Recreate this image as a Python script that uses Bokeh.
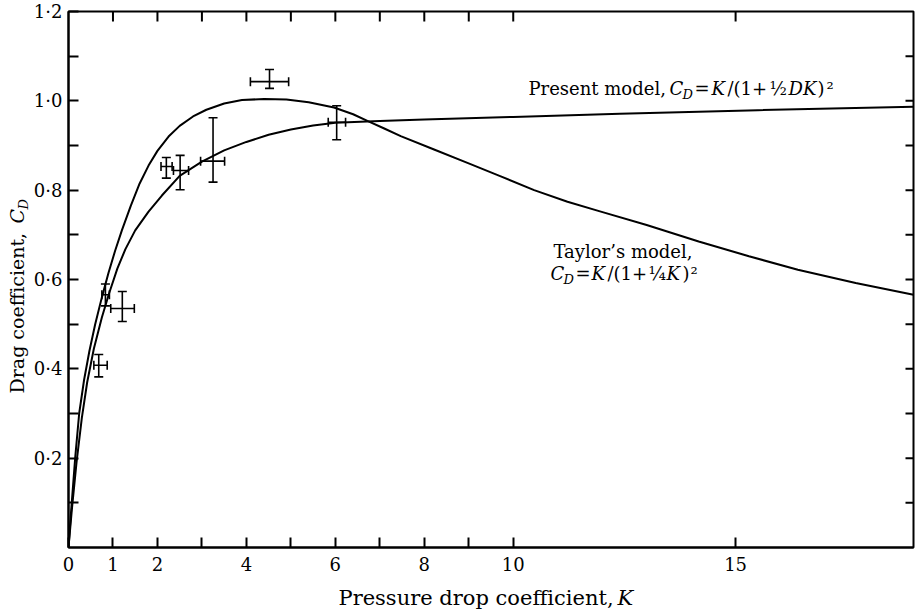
import math
from bokeh.plotting import figure
from bokeh.layouts import row, column
from bokeh.models import (Range1d, FixedTicker, LinearAxis, Whisker, ColumnDataSource,
                          Label, TeeHead)
from bokeh.embed import file_html
from bokeh.resources import INLINE

# ---------------- data ----------------
taylor_k = [0, 0.05, 0.15, 0.24, 0.35, 0.47, 0.6, 0.75, 0.9, 1.05, 1.2, 1.4, 1.6, 1.8,
            2.0, 2.25, 2.5, 2.8, 3.1, 3.5, 3.9, 4.4, 4.9, 5.4, 5.97, 6.4, 6.72, 7.1,
            7.47, 8.22, 8.97, 9.72, 10.47, 11.22, 11.97, 13.0, 14.17, 15.3, 16.4, 17.7, 19.0]
taylor_cd = [0, 0.07, 0.20, 0.30, 0.375, 0.44, 0.50, 0.56, 0.615, 0.665, 0.71, 0.765, 0.815,
             0.855, 0.888, 0.92, 0.944, 0.965, 0.98, 0.994, 1.002, 1.004, 1.003, 0.997, 0.985,
             0.97, 0.955, 0.938, 0.921, 0.891, 0.861, 0.831, 0.800, 0.774, 0.752, 0.722,
             0.685, 0.652, 0.622, 0.592, 0.566]

present_k = [0, 0.08, 0.18, 0.3, 0.42, 0.57, 0.75, 0.91, 1.1, 1.28, 1.5, 1.8, 2.1, 2.5,
             3.0, 3.5, 4.0, 4.5, 5.0, 5.5, 6.0, 7.0, 8.0, 10.0, 12.4, 15.5, 19.0]
present_cd = [0, 0.09, 0.19, 0.29, 0.37, 0.445, 0.515, 0.568, 0.625, 0.668, 0.71, 0.752,
              0.788, 0.832, 0.864, 0.889, 0.908, 0.924, 0.936, 0.945, 0.951, 0.955, 0.958,
              0.964, 0.971, 0.979, 0.987]

pt_k = [0.68, 0.83, 1.21, 2.20, 2.51, 3.25, 4.52, 6.03]
pt_cd = [0.408, 0.566, 0.535, 0.853, 0.844, 0.865, 1.043, 0.952]
pt_cd_lo = [0.382, 0.541, 0.506, 0.827, 0.801, 0.818, 1.028, 0.913]
pt_cd_hi = [0.432, 0.590, 0.573, 0.873, 0.878, 0.962, 1.070, 0.989]
pt_k_lo = [0.57, 0.75, 0.95, 2.08, 2.36, 2.97, 4.09, 5.84]
pt_k_hi = [0.87, 0.92, 1.48, 2.33, 2.70, 3.51, 4.95, 6.23]

x_major = [0, 1, 2, 4, 6, 8, 10, 15]
x_minor = [3, 5, 7, 9]
x_labels = ["0", "1", "2", "4", "6", "8", "10", "15"]
x_top_ticks = [1, 2, 3, 4, 5, 6, 7, 8, 9, 10, 15]
y_major = [0.2, 0.4, 0.6, 0.8, 1.0, 1.2]
y_minor = [0.1, 0.3, 0.5, 0.7, 0.9, 1.1]
y_labels = ["0·2", "0·4", "0·6", "0·8", "1·0", "1·2"]
y_right_ticks = [0.1, 0.2, 0.3, 0.4, 0.5, 0.6, 0.7, 0.8, 0.9, 1.0, 1.1]

# ---------------- layout (pixels) ----------------
W, H = 918, 613
YLAB_W = 30            # strip for the vertical axis title
XLAB_H = 30            # strip for the horizontal axis title
MW, MH = W - YLAB_W, H - XLAB_H
BL, BR, BT, BB = 38, 5, 11, 36
X0, X1 = 0, 19
Y0, Y1 = 0, 1.2
FONT = "DejaVu Serif"
FL = YLAB_W + BL          # frame left edge in page pixels
FB = BT + (MH - BT - BB)  # frame bottom edge in page pixels
FW = MW - BL - BR
FH = MH - BT - BB
SHIFT = 0.38              # baseline correction, in em

p = figure(width=MW, height=MH, x_range=Range1d(X0, X1), y_range=Range1d(Y0, Y1),
           output_backend="svg", toolbar_location=None,
           x_axis_location=None, y_axis_location=None,
           min_border_left=BL, min_border_right=BR, min_border_top=BT, min_border_bottom=BB)
p.xgrid.visible = False
p.ygrid.visible = False
p.outline_line_color = "black"
p.outline_line_width = 2
p.background_fill_color = "white"
p.border_fill_color = "white"


def style_axis(ax):
    ax.axis_line_width = 2
    ax.axis_line_color = "black"
    ax.major_tick_in = 10
    ax.major_tick_out = 0
    ax.minor_tick_in = 10
    ax.minor_tick_out = 0
    ax.major_tick_line_width = 2
    ax.minor_tick_line_width = 2
    ax.major_tick_line_color = "black"
    ax.minor_tick_line_color = "black"
    ax.major_label_text_font = FONT
    ax.major_label_text_font_size = "18px"
    ax.major_label_text_color = "black"


xb = LinearAxis(ticker=FixedTicker(ticks=x_major, minor_ticks=x_minor))
style_axis(xb)
xb.major_label_overrides = dict(zip(x_major, x_labels))
xb.major_label_standoff = 9
p.add_layout(xb, "below")

yl = LinearAxis(ticker=FixedTicker(ticks=y_major, minor_ticks=y_minor))
style_axis(yl)
yl.major_label_overrides = dict(zip(y_major, y_labels))
yl.major_label_standoff = 6
p.add_layout(yl, "left")

# inward ticks on the top and right frame edges (no labels)
top_len = 10 * (Y1 - Y0) / FH
right_len = 8 * (X1 - X0) / FW
p.segment(x0=x_top_ticks, y0=[Y1] * len(x_top_ticks), x1=x_top_ticks,
          y1=[Y1 - top_len] * len(x_top_ticks), line_color="black", line_width=2)
p.segment(x0=[X1] * len(y_right_ticks), y0=y_right_ticks,
          x1=[X1 - right_len] * len(y_right_ticks), y1=y_right_ticks,
          line_color="black", line_width=2)

# ---------------- curves ----------------
p.line(taylor_k, taylor_cd, line_color="black", line_width=2)
p.line(present_k, present_cd, line_color="black", line_width=2)

# ---------------- data points with error bars ----------------
src = ColumnDataSource(dict(k=pt_k, cd=pt_cd, cd_lo=pt_cd_lo, cd_hi=pt_cd_hi,
                            k_lo=pt_k_lo, k_hi=pt_k_hi))


def tee():
    return TeeHead(size=9, line_width=1.6, line_color="black")


p.add_layout(Whisker(source=src, base="k", upper="cd_hi", lower="cd_lo", dimension="height",
                     line_width=1.6, line_color="black", upper_head=tee(), lower_head=tee()))
p.add_layout(Whisker(source=src, base="cd", upper="k_hi", lower="k_lo", dimension="width",
                     line_width=1.6, line_color="black", upper_head=tee(), lower_head=tee()))


# ---------------- text annotations (positions given in page pixels) ----------------
def put(fig, text, x, y, size, italic=False, angle=0.0):
    fig.add_layout(Label(x=x, y=y, text=text, text_font=FONT,
                         text_font_size=f"{size}px",
                         text_font_style="italic" if italic else "normal",
                         text_color="black", text_baseline="alphabetic",
                         text_align="left", angle=angle))


def put_main(text, px, py, size, italic=False):
    py = py - SHIFT * size
    x = X0 + (px - FL) * (X1 - X0) / FW
    y = Y0 + (FB - py) * (Y1 - Y0) / FH
    put(p, text, x, y, size, italic)


# Present model label
put_main("Present model,", 528, 95, 18)
put_main("C", 669, 95, 18, True)
put_main("D", 682, 99, 13, True)
put_main("=", 694, 95, 18)
put_main("K", 711, 95, 18, True)
put_main("/(1+", 727, 95, 18)
put_main("½", 769, 95, 18)
put_main("DK", 788, 95, 18, True)
put_main(")", 817, 95, 18)
put_main("²", 826, 95, 18)

# Taylor's model label
put_main("Taylor’s model,", 553, 258, 18)
put_main("C", 550, 280, 18, True)
put_main("D", 563, 284, 13, True)
put_main("=", 575, 280, 18)
put_main("K", 591, 280, 18, True)
put_main("/(1+", 607, 280, 18)
put_main("¼", 648, 280, 18)
put_main("K", 666, 280, 18, True)
put_main(")", 682, 280, 18)
put_main("²", 690, 280, 18)

# vertical axis title strip
ylab = figure(width=YLAB_W, height=H, x_range=Range1d(0, YLAB_W), y_range=Range1d(H, 0),
              output_backend="svg", toolbar_location=None,
              x_axis_location=None, y_axis_location=None, min_border=0)
ylab.xgrid.visible = False
ylab.ygrid.visible = False
ylab.outline_line_color = None
ylab.background_fill_color = "white"
ylab.border_fill_color = "white"
put(ylab, "Drag coefficient,", 24 - SHIFT * 19, 393, 19, False, math.pi / 2)
put(ylab, "C", 24 - SHIFT * 19, 223, 19, True, math.pi / 2)
put(ylab, "D", 28 - SHIFT * 13, 209, 13, True, math.pi / 2)

# horizontal axis title strip (its frame is aligned with the main frame by the column)
xlab = figure(width=MW, height=XLAB_H, x_range=Range1d(FL, FL + FW), y_range=Range1d(H, MH),
              output_backend="svg", toolbar_location=None,
              x_axis_location=None, y_axis_location=None, min_border=0)
xlab.xgrid.visible = False
xlab.ygrid.visible = False
xlab.outline_line_color = None
xlab.background_fill_color = "white"
xlab.border_fill_color = "white"
put(xlab, "Pressure drop coefficient,", 338, 605 - SHIFT * 21, 21)
put(xlab, "K", 617, 605 - SHIFT * 21, 21, True)

layout = row(ylab, column(p, xlab, spacing=0), spacing=0)
open("out.html", "w").write(file_html(layout, INLINE))
